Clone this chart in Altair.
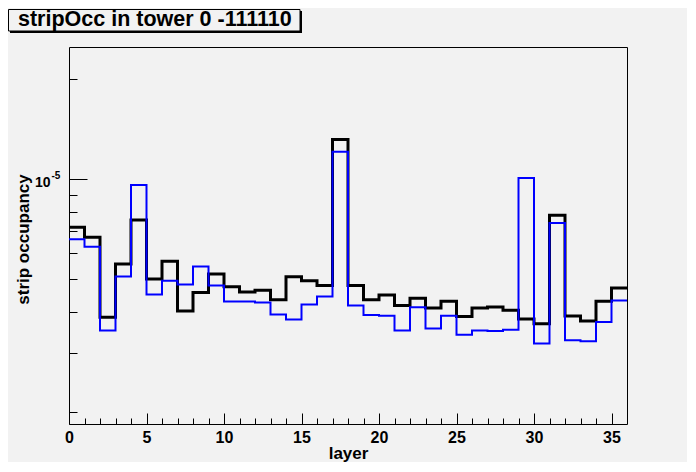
import altair as alt
import pandas as pd

# bin index (layer) 0..35 (log scale)
layers = list(range(36))
black_vals = [7.18e-6, 6.69e-6, 3.85e-6, 5.56e-6, 7.55e-6, 5.01e-6, 5.67e-6, 4.02e-6, 4.57e-6, 5.19e-6,
              4.75e-6, 4.58e-6, 4.64e-6, 4.34e-6, 5.09e-6, 4.95e-6, 4.79e-6, 1.318e-5, 4.79e-6, 4.34e-6,
              4.49e-6, 4.17e-6, 4.39e-6, 4.10e-6, 4.30e-6, 3.87e-6, 4.10e-6, 4.13e-6, 4.04e-6, 3.80e-6,
              3.68e-6, 7.80e-6, 3.88e-6, 3.75e-6, 4.30e-6, 4.71e-6]
blue_vals = [6.60e-6, 6.27e-6, 3.51e-6, 5.10e-6, 9.61e-6, 4.50e-6, 4.95e-6, 4.83e-6, 5.47e-6, 4.79e-6,
             4.29e-6, 4.29e-6, 4.26e-6, 3.92e-6, 3.79e-6, 4.20e-6, 4.44e-6, 1.210e-5, 4.17e-6, 3.91e-6,
             3.89e-6, 3.51e-6, 4.12e-6, 3.56e-6, 3.89e-6, 3.41e-6, 3.51e-6, 3.50e-6, 3.53e-6, 1.01e-5,
             3.21e-6, 7.39e-6, 3.28e-6, 3.26e-6, 3.72e-6, 4.32e-6]
x_ticks = list(range(36))
y_ticks = [2e-6, 3e-6, 4e-6, 5e-6, 6e-6, 7e-6, 8e-6, 9e-6, 1e-5, 2e-5]
y_label_value = [1e-5]
y_label_exp = ["-5"]
title_text = "stripOcc in tower 0 -111110"
x_title = "layer"
y_title = "strip occupancy"

FONT = "Liberation Sans"
BG = "#f2f2f2"

def step_frame(vals):
    # histogram outline: last bin closed at the upper edge (36)
    return pd.DataFrame({"layer": layers + [36], "occ": vals + [vals[-1]]})

x_scale = alt.Scale(domain=[0, 36], nice=False, zero=False)
y_scale = alt.Scale(type="log", domain=[1.837e-6, 2.5e-5], nice=False, zero=False)

x_axis = alt.Axis(
    values=x_ticks,
    labelExpr="datum.value % 5 == 0 ? datum.label : ''",
    tickSize={"expr": "datum.value % 5 == 0 ? -11 : -6"},
    labelPadding=16,
    labelFont=FONT, labelFontSize=16, labelFontWeight="bold", labelColor="black",
    labelOverlap=False, labelFlush=False, labelBound=False,
    tickColor="black", domain=False, grid=False,
    title=x_title, titleFont=FONT, titleFontSize=17, titleFontWeight="bold", titleColor="black",
    titleX=279, titleY=34, titleBaseline="alphabetic", titleAlign="center",
)
y_axis = alt.Axis(
    values=y_ticks,
    labelExpr="abs(datum.value - 1e-5) < 1e-10 ? '10' : ''",
    tickSize={"expr": "abs(datum.value - 1e-5) < 1e-10 ? -18 : -8"},
    labelPadding=37, labelOffset=3.5,
    labelFont=FONT, labelFontSize=14, labelFontWeight="bold", labelColor="black",
    labelOverlap=False, labelFlush=False, labelBound=False,
    tickColor="black", domain=False, grid=False,
    title=y_title, titleFont=FONT, titleFontSize=17, titleFontWeight="bold", titleColor="black",
    titleX=-46, titleY=192, titleAngle=-90, titleBaseline="middle", titleAlign="center",
)

x_enc = alt.X("layer:Q", scale=x_scale, axis=x_axis)
y_enc = alt.Y("occ:Q", scale=y_scale, axis=y_axis)

black = alt.Chart(step_frame(black_vals)).mark_line(
    interpolate="step-after", color="black", strokeWidth=3, clip=True
).encode(x=x_enc, y=y_enc)
blue = alt.Chart(step_frame(blue_vals)).mark_line(
    interpolate="step-after", color="#0000ff", strokeWidth=2, clip=True
).encode(x=x_enc, y=y_enc)

# exponent of the "10^-5" axis label
sup = alt.Chart(pd.DataFrame({"occ": y_label_value, "t": y_label_exp})).mark_text(
    font=FONT, fontSize=10, fontWeight="bold", color="black", align="left", baseline="alphabetic"
).encode(x=alt.value(-17.5), y=y_enc, text="t:N")

one = pd.DataFrame({"k": [0]})
shadow = alt.Chart(one).mark_rect(color="black").encode(
    x=alt.value(-59), x2=alt.value(233), y=alt.value(-36), y2=alt.value(-14)
)
box = alt.Chart(one).mark_rect(fill=BG, stroke="black", strokeWidth=1).encode(
    x=alt.value(-60.5), x2=alt.value(231), y=alt.value(-37.5), y2=alt.value(-16)
)
title = alt.Chart(one).mark_text(
    font=FONT, fontSize=21.5, fontWeight="bold", color="black", align="left", baseline="alphabetic"
).encode(x=alt.value(-51), y=alt.value(-21.5), text=alt.value(title_text))

chart = alt.layer(black, blue, sup, shadow, box, title).properties(
    width=558, height=377,
    autosize=alt.AutoSizeParams(type="none"),
    padding={"left": 61, "top": 39, "right": 60, "bottom": 38},
    background=BG,
).configure_view(
    fill=BG, stroke="black", strokeWidth=1
).configure_axis(
    labelOverlap=False
)

chart.save("out.html", embed_options={"renderer": "svg", "actions": False})
